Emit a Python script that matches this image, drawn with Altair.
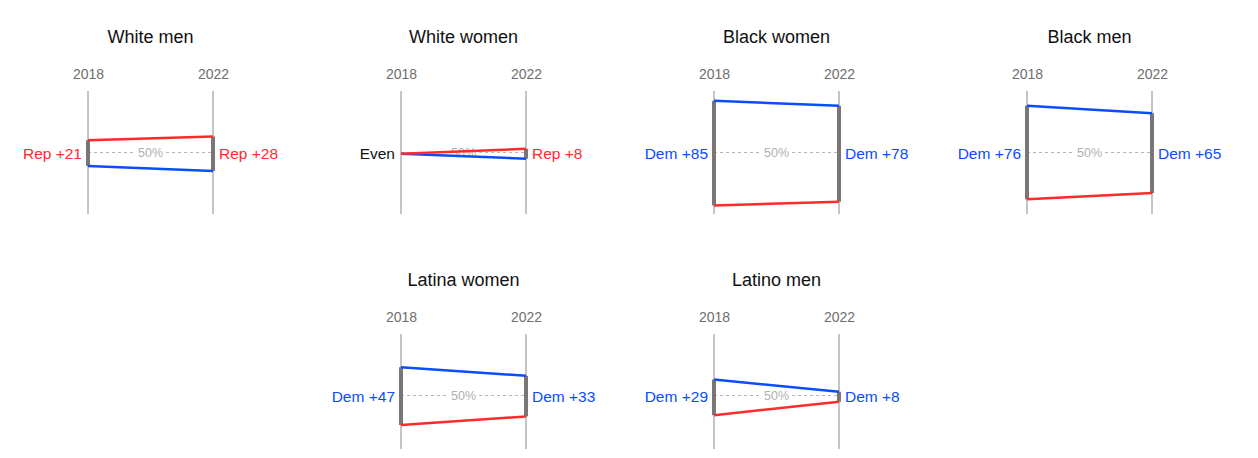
import altair as alt
import pandas as pd

groups = ["White men", "White women", "Black women", "Black men", "Latina women", "Latino men"]
dem_2018 = [39, 49, 92, 88, 73, 63]
rep_2018 = [60, 49, 7, 12, 26, 34]
dem_2022 = [35, 45, 88, 82, 66, 53]
rep_2022 = [63, 53, 10, 17, 33, 45]
label_2018 = ["Rep +21", "Even", "Dem +85", "Dem +76", "Dem +47", "Dem +29"]
label_2022 = ["Rep +28", "Rep +8", "Dem +78", "Dem +65", "Dem +33", "Dem +8"]
years = [2018, 2022]

RED = "#ff2a2a"
BLUE = "#0a4cff"
FONT = "Liberation Sans"
PX_PER_YEAR = 31.25
PX_PER_PT = 1.23
X0 = 2015.44
PW = 312.5
PH = 123


def lab_color(t):
    if t.startswith("Rep"):
        return "Rep"
    if t.startswith("Dem"):
        return "Dem"
    return "Even"


rows_line, rows_bar, rows_lab = [], [], []
for i, g in enumerate(groups):
    for yr, d, r, lab in [(2018, dem_2018[i], rep_2018[i], label_2018[i]),
                          (2022, dem_2022[i], rep_2022[i], label_2022[i])]:
        rows_line.append({"group": g, "year": yr, "party": "Dem", "value": d})
        rows_line.append({"group": g, "year": yr, "party": "Rep", "value": r})
        rows_bar.append({"group": g, "year": yr, "lo": min(d, r), "hi": max(d, r)})
        rows_lab.append({"group": g, "year": yr, "label": lab, "who": lab_color(lab), "mid": 50})
lines_df = pd.DataFrame(rows_line)
bars_df = pd.DataFrame(rows_bar)
labs_df = pd.DataFrame(rows_lab)

color_scale = alt.Scale(domain=["Dem", "Rep", "Even"], range=[BLUE, RED, "#111111"])


def panel(g, width=PW, height=PH):
    xscale = alt.Scale(domain=[X0, X0 + width / PX_PER_YEAR], nice=False, zero=False)
    yscale = alt.Scale(domain=[100 - height / PX_PER_PT, 100], nice=False, zero=False)
    ldf = lines_df[lines_df.group == g]
    bdf = bars_df[bars_df.group == g]
    tdf = labs_df[labs_df.group == g]
    axis_df = pd.DataFrame({"year": years, "y0": [0, 0], "y1": [100, 100]})
    mid = (years[0] + years[1]) / 2
    dash_df = pd.DataFrame({"x0": [years[0], mid + 0.5], "x1": [mid - 0.5, years[1]], "y": [50, 50]})
    pct_df = pd.DataFrame({"x": [mid], "y": [50], "t": ["50%"]})

    base_axis = alt.Chart(axis_df).mark_rule(color="#8a8a8a", strokeWidth=1, clip=True).encode(
        x=alt.X("year:Q", scale=xscale,
                axis=alt.Axis(orient="top", values=years, format="d", domain=False, ticks=False,
                              tickSize=0, grid=False, labelFontSize=14, labelColor="#6e6e6e",
                              labelFont=FONT, labelPadding=10, title=None)),
        y=alt.Y("y0:Q", scale=yscale, axis=None),
        y2="y1:Q",
    )
    dash = alt.Chart(dash_df).mark_rule(color="#b5b5b5", strokeWidth=1, strokeDash=[3, 3]).encode(
        x=alt.X("x0:Q", scale=xscale), x2="x1:Q", y=alt.Y("y:Q", scale=yscale)
    )
    pct = alt.Chart(pct_df).mark_text(color="#b0b0b0", fontSize=12.5, font=FONT, baseline="middle").encode(
        x=alt.X("x:Q", scale=xscale), y=alt.Y("y:Q", scale=yscale), text="t:N"
    )
    bars = alt.Chart(bdf).mark_rule(color="#7a7676", strokeWidth=4).encode(
        x=alt.X("year:Q", scale=xscale), y=alt.Y("lo:Q", scale=yscale), y2="hi:Q"
    )
    lines = alt.Chart(ldf).mark_line(strokeWidth=2.5).encode(
        x=alt.X("year:Q", scale=xscale),
        y=alt.Y("value:Q", scale=yscale),
        color=alt.Color("party:N", scale=color_scale, legend=None),
        detail="party:N",
    )
    lab_left = alt.Chart(tdf[tdf.year == 2018]).mark_text(
        align="right", baseline="middle", dx=-6, dy=1, fontSize=15.5, font=FONT
    ).encode(
        x=alt.X("year:Q", scale=xscale), y=alt.Y("mid:Q", scale=yscale), text="label:N",
        color=alt.Color("who:N", scale=color_scale, legend=None),
    )
    lab_right = alt.Chart(tdf[tdf.year == 2022]).mark_text(
        align="left", baseline="middle", dx=6, dy=1, fontSize=15.5, font=FONT
    ).encode(
        x=alt.X("year:Q", scale=xscale), y=alt.Y("mid:Q", scale=yscale), text="label:N",
        color=alt.Color("who:N", scale=color_scale, legend=None),
    )
    return alt.layer(base_axis, dash, pct, bars, lines, lab_left, lab_right).properties(
        width=width, height=height,
        title=alt.TitleParams(g, fontSize=18, font=FONT, fontWeight="normal", color="#111111",
                              anchor="start", dx=(mid - X0) * PX_PER_YEAR,
                              align="center", offset=20),
    )


PH2 = 115
spacer = alt.Chart(pd.DataFrame({"v": [0]})).mark_point(opacity=0).encode(
    x=alt.X("v:Q", axis=None), y=alt.Y("v:Q", axis=None)
).properties(width=PW, height=PH2)

row1 = alt.hconcat(
    panel(groups[0]), panel(groups[1]), panel(groups[2]), panel(groups[3], width=PW - 18),
    spacing=0,
)
row2 = alt.hconcat(spacer, panel(groups[4], height=PH2), panel(groups[5], height=PH2), spacing=0)

chart = alt.vconcat(row1, row2, spacing=58).properties(
    padding={"top": 21, "left": 0, "right": 0, "bottom": 0}
).configure(background="white", view=alt.ViewConfig(stroke=None))

chart.save("out.html", embed_options={"renderer": "svg", "actions": False})
